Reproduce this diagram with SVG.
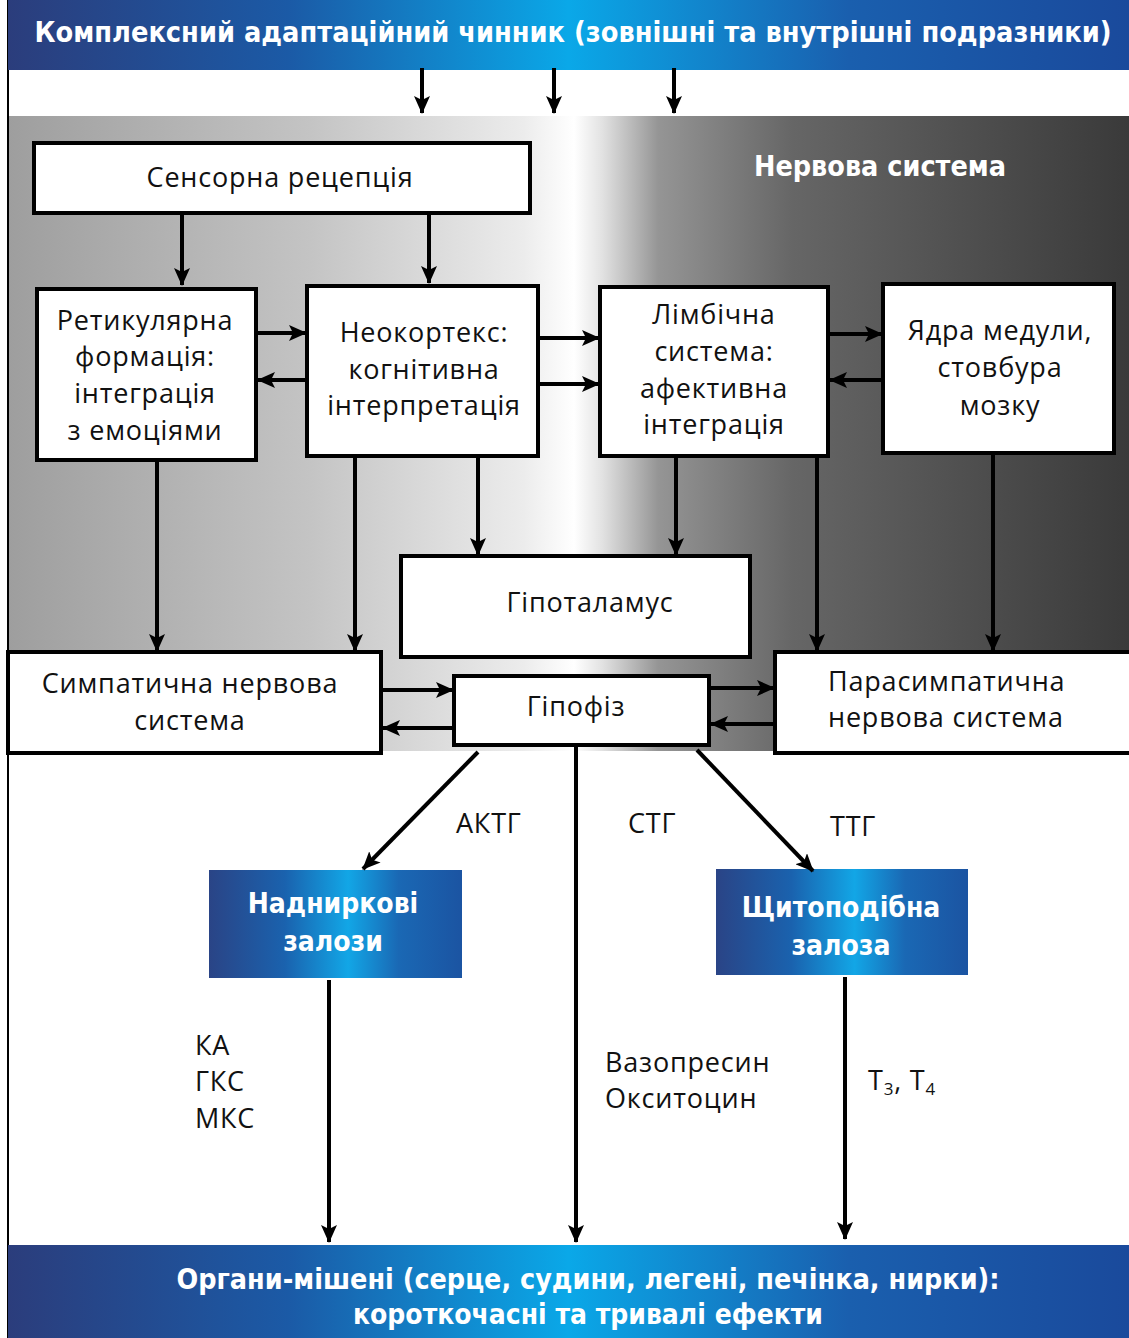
<svg xmlns="http://www.w3.org/2000/svg" width="1129" height="1338" viewBox="0 0 1129 1338">
<defs>
<linearGradient id="banner" x1="0" y1="0" x2="1" y2="0">
<stop offset="0" stop-color="#2b3d7c"/>
<stop offset="0.25" stop-color="#1b5aa6"/>
<stop offset="0.5" stop-color="#0aa8e8"/>
<stop offset="0.75" stop-color="#1a5fae"/>
<stop offset="1" stop-color="#1a4a9c"/>
</linearGradient>
<linearGradient id="boxblue" x1="0" y1="0" x2="1" y2="0">
<stop offset="0" stop-color="#2a4486"/>
<stop offset="0.3" stop-color="#1a62ae"/>
<stop offset="0.55" stop-color="#12a6e6"/>
<stop offset="0.75" stop-color="#1a68b4"/>
<stop offset="1" stop-color="#1b54a2"/>
</linearGradient>
<linearGradient id="gray" gradientUnits="userSpaceOnUse" x1="8" y1="0" x2="1129" y2="0">
<stop offset="0" stop-color="#9e9e9e"/>
<stop offset="0.27" stop-color="#c4c4c4"/>
<stop offset="0.46" stop-color="#ececec"/>
<stop offset="0.505" stop-color="#ffffff"/>
<stop offset="0.53" stop-color="#e2e2e2"/>
<stop offset="0.58" stop-color="#959595"/>
<stop offset="0.7" stop-color="#666666"/>
<stop offset="1" stop-color="#3a3a3a"/>
</linearGradient>
<marker id="ah" viewBox="0 0 18 16" refX="17" refY="8" markerWidth="18" markerHeight="16" markerUnits="userSpaceOnUse" orient="auto">
<path d="M0,0 L18,8 L0,16 L4,8 z" fill="#000"/>
</marker>
</defs>
<style>
.box{fill:#fff;stroke:#000;stroke-width:4}
.t{font-family:"Open Sans","Noto Sans","DejaVu Sans",sans-serif;font-size:27px;letter-spacing:0.8px;fill:#111;text-anchor:middle}
.l{font-family:"Open Sans","Noto Sans","DejaVu Sans",sans-serif;font-size:27px;letter-spacing:0.8px;fill:#111}
.w{font-family:"DejaVu Sans Condensed","Open Sans","Liberation Sans",sans-serif;font-weight:bold;font-size:28px;fill:#fff;text-anchor:middle}
.c line{stroke:#000;stroke-width:4;marker-end:url(#ah)}
</style>
<rect x="0" y="0" width="1129" height="1338" fill="#fff"/>
<rect x="8" y="116" width="1121" height="635" fill="url(#gray)"/>
<line x1="8" y1="0" x2="8" y2="1338" stroke="#000" stroke-width="2"/>

<g id="top-banner">
<rect x="8" y="0" width="1121" height="70" fill="url(#banner)"/>
<text class="w" x="573" y="42" textLength="1077" lengthAdjust="spacingAndGlyphs">Комплексний адаптаційний чинник (зовнішні та внутрішні подразники)</text>
</g>
<g id="nervous-label"><text class="w" x="880" y="176" textLength="252" lengthAdjust="spacingAndGlyphs">Нервова система</text></g>

<g id="sensory"><rect class="box" x="34" y="143" width="496" height="70"/><text class="t" x="280" y="187">Сенсорна рецепція</text></g>
<g id="reticular"><rect class="box" x="37" y="289" width="219" height="171"/>
<text class="t" x="145" y="330">Ретикулярна</text><text class="t" x="145" y="366">формація:</text><text class="t" x="145" y="403">інтеграція</text><text class="t" x="145" y="440">з емоціями</text></g>
<g id="neocortex"><rect class="box" x="307" y="286" width="231" height="170"/>
<text class="t" x="424" y="342">Неокортекс:</text><text class="t" x="424" y="379">когнітивна</text><text class="t" x="424" y="415">інтерпретація</text></g>
<g id="limbic"><rect class="box" x="600" y="287" width="228" height="169"/>
<text class="t" x="714" y="324">Лімбічна</text><text class="t" x="714" y="361">система:</text><text class="t" x="714" y="398">афективна</text><text class="t" x="714" y="434">інтеграція</text></g>
<g id="nuclei"><rect class="box" x="883" y="284" width="231" height="169"/>
<text class="t" x="1000" y="340">Ядра медули,</text><text class="t" x="1000" y="377">стовбура</text><text class="t" x="1000" y="415">мозку</text></g>
<g id="hypothalamus"><rect class="box" x="401" y="556" width="349" height="101"/><text class="t" x="590" y="612">Гіпоталамус</text></g>
<g id="sympathetic"><rect class="box" x="8" y="652" width="373" height="101"/>
<text class="t" x="190" y="693">Симпатична нервова</text><text class="t" x="190" y="730">система</text></g>
<g id="hypophysis"><rect class="box" x="454" y="676" width="255" height="69"/><text class="t" x="576" y="716">Гіпофіз</text></g>
<g id="parasympathetic"><rect class="box" x="775" y="652" width="360" height="101"/>
<text class="l" x="828" y="691">Парасимпатична</text><text class="l" x="828" y="727">нервова система</text></g>

<g id="adrenal"><rect x="209" y="870" width="253" height="108" fill="url(#boxblue)"/>
<text class="w" x="333" y="913">Надниркові</text><text class="w" x="333" y="951">залози</text></g>
<g id="thyroid"><rect x="716" y="869" width="252" height="106" fill="url(#boxblue)"/>
<text class="w" x="841" y="917">Щитоподібна</text><text class="w" x="841" y="955">залоза</text></g>

<g id="bottom-banner"><rect x="8" y="1245" width="1121" height="93" fill="url(#banner)"/>
<text class="w" x="588" y="1289" textLength="823" lengthAdjust="spacingAndGlyphs">Органи-мішені (серце, судини, легені, печінка, нирки):</text>
<text class="w" x="588" y="1324" textLength="470" lengthAdjust="spacingAndGlyphs">короткочасні та тривалі ефекти</text></g>

<g id="labels">
<text class="l" x="456" y="833">АКТГ</text>
<text class="l" x="628" y="833">СТГ</text>
<text class="l" x="830" y="836">ТТГ</text>
<text class="l" x="195" y="1055">КА</text>
<text class="l" x="195" y="1091">ГКС</text>
<text class="l" x="195" y="1128">МКС</text>
<text class="l" x="605" y="1072">Вазопресин</text>
<text class="l" x="605" y="1108">Окситоцин</text>
<text class="l" x="868" y="1090">T<tspan font-size="17" dy="5">3</tspan><tspan dy="-5">, T</tspan><tspan font-size="17" dy="5">4</tspan></text>
</g>

<g id="connectors" class="c">
<line x1="422" y1="68" x2="422" y2="113"/>
<line x1="554" y1="68" x2="554" y2="113"/>
<line x1="674" y1="68" x2="674" y2="113"/>
<line x1="182" y1="215" x2="182" y2="285"/>
<line x1="429" y1="215" x2="429" y2="283"/>
<line x1="258" y1="333" x2="306" y2="333"/>
<line x1="306" y1="380" x2="258" y2="380"/>
<line x1="540" y1="338" x2="599" y2="338"/>
<line x1="536" y1="384" x2="599" y2="384"/>
<line x1="830" y1="334" x2="882" y2="334"/>
<line x1="882" y1="380" x2="830" y2="380"/>
<line x1="157" y1="462" x2="157" y2="651"/>
<line x1="355" y1="458" x2="355" y2="651"/>
<line x1="478" y1="458" x2="478" y2="555"/>
<line x1="676" y1="458" x2="676" y2="555"/>
<line x1="817" y1="458" x2="817" y2="651"/>
<line x1="993" y1="455" x2="993" y2="651"/>
<line x1="383" y1="690" x2="453" y2="690"/>
<line x1="453" y1="728" x2="383" y2="728"/>
<line x1="711" y1="688" x2="774" y2="688"/>
<line x1="774" y1="724" x2="711" y2="724"/>
<line x1="478" y1="752" x2="363" y2="869"/>
<line x1="697" y1="750" x2="813" y2="871"/>
<line x1="576" y1="747" x2="576" y2="1242"/>
<line x1="329" y1="980" x2="329" y2="1242"/>
<line x1="845" y1="977" x2="845" y2="1239"/>
</g>
</svg>
